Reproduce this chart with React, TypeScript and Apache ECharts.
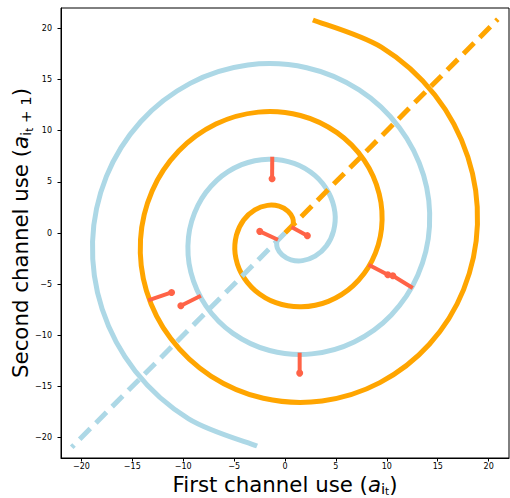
import React, { useEffect, useRef } from 'react';
import * as echarts from 'echarts';

const tickValues = [-20, -15, -10, -5, 0, 5, 10, 15, 20];
const axisMin = -22;
const axisMax = 22;

const xAxisTitle = '{m|First channel use (}{it|a}{s|i}{ss|t}{m|)}';
const yAxisTitle = '{m|Second channel use (}{it|a}{s|i}{ss|t}{s| + 1}{m|)}';

// orange spiral, read from centre outwards
const orangeSpiral: number[][] = [
  [0.82, 0.75], [0.76, 1.45], [0.28, 2.14], [-0.58, 2.62], [-1.72, 2.7],
  [-2.96, 2.27], [-4.06, 1.28], [-4.77, -0.21], [-4.9, -2.03], [-4.29, -3.94],
  [-2.93, -5.63], [-0.9, -6.81], [1.6, -7.22], [4.26, -6.68], [6.7, -5.14],
  [8.55, -2.7], [9.48, 0.41], [9.25, 3.83], [7.77, 7.12], [5.11, 9.81],
  [1.51, 11.49], [-2.62, 11.82], [-6.79, 10.65], [-10.44, 8.01], [-13.05, 4.11],
  [-14.19, -0.62], [-13.61, -5.64], [-11.24, -10.3], [-7.28, -13.99], [-2.13, -16.16],
  [3.64, -16.42], [9.32, -14.63], [14.18, -10.88], [17.54, -5.53], [18.9, 0.83],
  [17.96, 7.44], [14.72, 13.49], [9.46, 18.17], [2.74, 20.83],
];

// light blue spiral, read from centre outwards
const blueSpiral: number[][] = [
  [-0.82, -0.75], [-0.76, -1.45], [-0.28, -2.14], [0.58, -2.62], [1.72, -2.7],
  [2.96, -2.27], [4.06, -1.28], [4.77, 0.21], [4.9, 2.03], [4.29, 3.94],
  [2.93, 5.63], [0.9, 6.81], [-1.6, 7.22], [-4.26, 6.68], [-6.7, 5.14],
  [-8.55, 2.7], [-9.48, -0.41], [-9.25, -3.83], [-7.77, -7.12], [-5.11, -9.81],
  [-1.51, -11.49], [2.62, -11.82], [6.79, -10.65], [10.44, -8.01], [13.05, -4.11],
  [14.19, 0.62], [13.61, 5.64], [11.24, 10.3], [7.28, 13.99], [2.13, 16.16],
  [-3.64, 16.42], [-9.32, 14.63], [-14.18, 10.88], [-17.54, 5.53], [-18.9, -0.83],
  [-17.96, -7.44], [-14.72, -13.49], [-9.46, -18.17], [-2.74, -20.83],
];

const orangeDiagonal: number[][] = [[0, 0], [20.9, 20.9]];
const blueDiagonal: number[][] = [[0, 0], [-20.95, -20.95]];

// red segments: end on a spiral, and the marked end
const segmentOnCurve: number[][] = [
  [-1.25, 7.45], [-0.69, -0.66], [0.63, 0.59], [8.21, -3.1],
  [12.55, -5.38], [1.44, -11.7], [-13.43, -6.59], [-8.26, -6.13],
];
const segmentMarked: number[][] = [
  [-1.27, 5.3], [-2.48, 0.16], [2.2, -0.26], [10.1, -4.08],
  [10.59, -4.18], [1.44, -13.7], [-11.14, -5.81], [-10.23, -7.11],
];

const FONT = 'DejaVu Sans';
const ORANGE = '#ffa500';
const LIGHTBLUE = '#add8e6';
const TOMATO = '#ff6347';

function richTitle(subPad: number, subSubPad: number) {
  return {
    m: { fontSize: 21.3, fontFamily: FONT, color: '#000', verticalAlign: 'top', lineHeight: 28 },
    it: { fontSize: 21.3, fontFamily: FONT, fontStyle: 'italic', color: '#000', verticalAlign: 'top', lineHeight: 28 },
    s: { fontSize: 14.9, fontFamily: FONT, color: '#000', verticalAlign: 'top', padding: [subPad, 0, 0, 0] },
    ss: { fontSize: 10.4, fontFamily: FONT, color: '#000', verticalAlign: 'top', padding: [subSubPad, 0, 0, 0] },
  };
}

const fmt = (v: number) => (v < 0 ? '\u2212' + Math.abs(v) : String(v));

function axisCommon(margin: number, subPad: number, subSubPad: number) {
  return {
    type: 'value' as const,
    min: axisMin,
    max: axisMax,
    splitLine: { show: false },
    axisLine: { show: true, onZero: false, lineStyle: { color: '#000', width: 1 } },
    axisTick: { show: true, length: 3.5, customValues: tickValues, lineStyle: { color: '#000', width: 1 } },
    axisLabel: {
      customValues: tickValues,
      formatter: fmt,
      fontSize: 8,
      fontFamily: FONT,
      color: '#000',
      margin,
    },
    nameLocation: 'middle' as const,
    nameMoveOverlap: false,
    nameTextStyle: { rich: richTitle(subPad, subSubPad) },
  };
}

// smooth curve through the read points (Catmull-Rom converted to cubic Bezier)
function spiralSeries(points: number[][], color: string) {
  return {
    type: 'custom',
    data: points,
    silent: true,
    clip: true,
    renderItem: (params: any, api: any) => {
      if (params.dataIndex !== 0) return null;
      const px = points.map((p) => api.coord(p));
      let d = `M${px[0][0]},${px[0][1]}`;
      for (let i = 0; i < px.length - 1; i++) {
        const p0 = px[Math.max(0, i - 1)];
        const p1 = px[i];
        const p2 = px[i + 1];
        const p3 = px[Math.min(px.length - 1, i + 2)];
        const c1x = p1[0] + (p2[0] - p0[0]) / 6;
        const c1y = p1[1] + (p2[1] - p0[1]) / 6;
        const c2x = p2[0] - (p3[0] - p1[0]) / 6;
        const c2y = p2[1] - (p3[1] - p1[1]) / 6;
        d += ` C${c1x},${c1y} ${c2x},${c2y} ${p2[0]},${p2[1]}`;
      }
      return {
        type: 'path',
        shape: { pathData: d },
        style: { fill: 'none', stroke: color, lineWidth: 5 },
      };
    },
  };
}

export default function App() {
  const ref = useRef<HTMLDivElement>(null);
  useEffect(() => {
    document.body.style.margin = '0';
    const chart = echarts.init(ref.current!, null, { renderer: 'svg' });
    const segSeries = segmentOnCurve.map((p, i) => ({
      type: 'line',
      data: [
        { value: p, symbol: 'none' },
        { value: segmentMarked[i], symbol: 'circle' },
      ],
      symbolSize: 7,
      showSymbol: true,
      lineStyle: { color: TOMATO, width: 4 },
      itemStyle: { color: TOMATO },
      silent: true,
    }));
    chart.setOption({
      animation: false,
      backgroundColor: '#fff',
      grid: {
        left: 61, top: 8, width: 448, height: 450,
        containLabel: false,
        outerBoundsMode: 'none',
        show: true, borderColor: '#000', borderWidth: 1, backgroundColor: 'transparent',
      },
      xAxis: {
        ...axisCommon(4.5, 7, 11.5),
        name: xAxisTitle,
        nameGap: 16,
      },
      yAxis: {
        ...axisCommon(9, 9, 14.5),
        name: yAxisTitle,
        nameRotate: 90,
        nameGap: 23.5,
      },
      series: [
        spiralSeries(blueSpiral, LIGHTBLUE),
        spiralSeries(orangeSpiral, ORANGE),
        {
          type: 'line', data: orangeDiagonal, symbol: 'none',
          lineStyle: { color: ORANGE, width: 5, type: [15, 8] }, silent: true,
        },
        {
          type: 'line', data: blueDiagonal, symbol: 'none',
          lineStyle: { color: LIGHTBLUE, width: 5, type: [15, 8] }, silent: true,
        },
        ...segSeries,
      ],
    });
    return () => chart.dispose();
  }, []);
  return <div ref={ref} style={{ width: 510, height: 498 }} />;
}
